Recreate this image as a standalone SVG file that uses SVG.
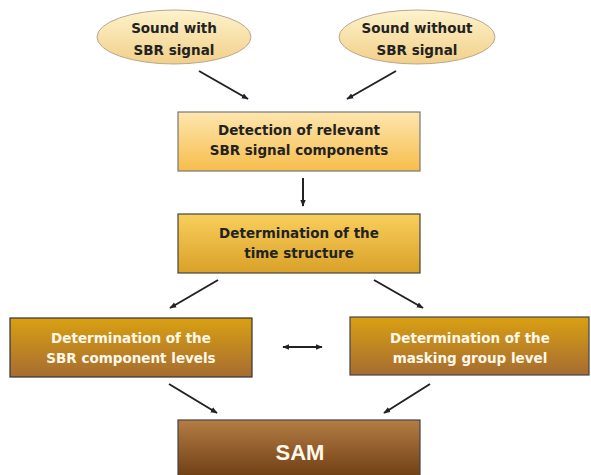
<svg xmlns="http://www.w3.org/2000/svg" width="591" height="475" viewBox="0 0 591 475">
<defs>
<linearGradient id="gEll" x1="0" y1="0" x2="0" y2="1"><stop offset="0" stop-color="#fdf3cc"/><stop offset="1" stop-color="#f2cf88"/></linearGradient>
<linearGradient id="gB1" x1="0" y1="0" x2="0" y2="1"><stop offset="0" stop-color="#fde6ae"/><stop offset="1" stop-color="#f7bd4c"/></linearGradient>
<linearGradient id="gB2" x1="0" y1="0" x2="0" y2="1"><stop offset="0" stop-color="#f9cf5c"/><stop offset="1" stop-color="#d9a128"/></linearGradient>
<linearGradient id="gB3" x1="0" y1="0" x2="0" y2="1"><stop offset="0" stop-color="#d9a012"/><stop offset="1" stop-color="#a66c32"/></linearGradient>
<linearGradient id="gSAM" x1="0" y1="0" x2="0" y2="1"><stop offset="0" stop-color="#b57d45"/><stop offset="1" stop-color="#6b3b12"/></linearGradient>
<marker id="ah" viewBox="0 0 10 10" refX="9" refY="5" markerWidth="7" markerHeight="7" orient="auto-start-reverse" markerUnits="userSpaceOnUse"><path d="M0,1 L10,5 L0,9 z" fill="#222"/></marker>
</defs>
<style>
text{font-family:"DejaVu Sans","Liberation Sans",sans-serif;font-weight:bold;text-anchor:middle}
.dk{fill:#222;font-size:13.5px}
.wt{fill:#fff8e8;font-size:13.5px}
.con line{stroke:#222;stroke-width:2;marker-end:url(#ah)}
</style>
<rect width="591" height="475" fill="#fff"/>
<g id="n_with">
<ellipse cx="174" cy="37" rx="77" ry="27" fill="url(#gEll)" stroke="#b8a890" stroke-width="1"/>
<text class="dk" x="174" y="33">Sound with</text>
<text class="dk" x="174" y="55">SBR signal</text>
</g>
<g id="n_without">
<ellipse cx="417" cy="37" rx="78" ry="27" fill="url(#gEll)" stroke="#b8a890" stroke-width="1"/>
<text class="dk" x="417" y="33">Sound without</text>
<text class="dk" x="417" y="55">SBR signal</text>
</g>
<g id="n_detect">
<rect x="178" y="112" width="242" height="59" fill="url(#gB1)" stroke="#777" stroke-width="1.2"/>
<text class="dk" x="299" y="135">Detection of relevant</text>
<text class="dk" x="299" y="155">SBR signal components</text>
</g>
<g id="n_time">
<rect x="178" y="214" width="242" height="59" fill="url(#gB2)" stroke="#444" stroke-width="1.2"/>
<text class="dk" x="299" y="238">Determination of the</text>
<text class="dk" x="299" y="258">time structure</text>
</g>
<g id="n_sbr">
<rect x="10" y="318" width="242" height="59" fill="url(#gB3)" stroke="#333" stroke-width="1.2"/>
<text class="wt" x="131" y="343">Determination of the</text>
<text class="wt" x="131" y="363">SBR component levels</text>
</g>
<g id="n_mask">
<rect x="350" y="317" width="239" height="58" fill="url(#gB3)" stroke="#444" stroke-width="1.2"/>
<text class="wt" x="470" y="343">Determination of the</text>
<text class="wt" x="470" y="363">masking group level</text>
</g>
<g id="n_sam">
<rect x="178" y="420" width="242" height="60" fill="url(#gSAM)" stroke="#444" stroke-width="1.2"/>
<text x="300" y="460" style="fill:#fff8e8;font-size:22px;font-family:'Liberation Sans',sans-serif">SAM</text>
</g>
<g id="connectors" class="con">
<line x1="199" y1="71" x2="248" y2="99"/>
<line x1="396" y1="71" x2="347" y2="99"/>
<line x1="303" y1="178" x2="303" y2="206"/>
<line x1="218" y1="280" x2="170" y2="308"/>
<line x1="374" y1="280" x2="423" y2="308"/>
<line x1="169" y1="384" x2="217" y2="413"/>
<line x1="430" y1="384" x2="384" y2="413"/>
<line x1="283" y1="347" x2="322" y2="347" style="marker-start:url(#ah)"/>
</g>
</svg>
